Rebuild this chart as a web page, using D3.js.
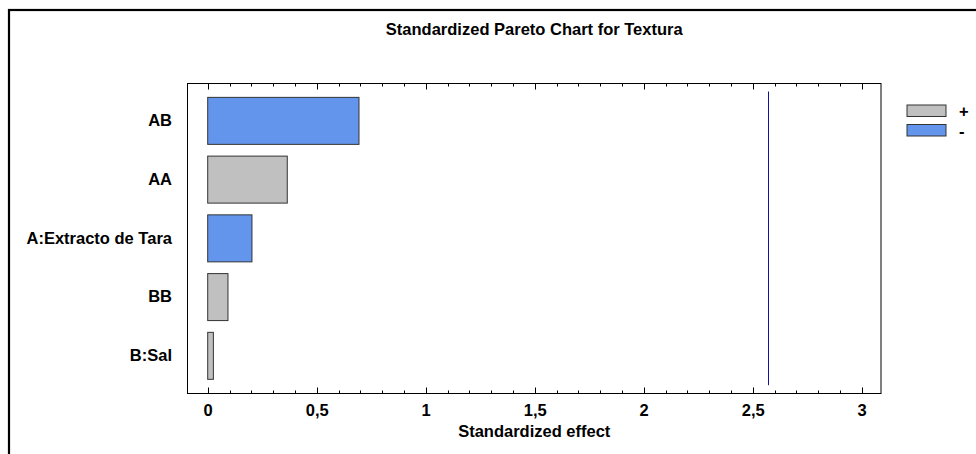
<!DOCTYPE html>
<html>
<head>
<meta charset="utf-8">
<script src="https://cdn.jsdelivr.net/npm/d3@7"></script>
<style>
  html, body { margin: 0; padding: 0; background: #fff; }
  svg { display: block; font-family: "Liberation Sans", Arial, sans-serif; }
</style>
</head>
<body>
<svg id="chart" width="976" height="454"></svg>
<script>
// Effects sorted by magnitude, with the sign of each effect
const effects = ["AB", "AA", "A:Extracto de Tara", "BB", "B:Sal"];
const effectValues = [0.694, 0.365, 0.203, 0.093, 0.026];
const effectSigns = ["-", "+", "-", "+", "+"];
const xTicks = [0, 0.5, 1, 1.5, 2, 2.5, 3];
const xTickLabels = ["0", "0,5", "1", "1,5", "2", "2,5", "3"];
const legendKeys = ["+", "-"];
const criticalValue = 2.5706; // t(0.025; 5)

const titleText = "Standardized Pareto Chart for Textura";
const xTitle = "Standardized effect";

const colors = { "+": "#c0c0c0", "-": "#6495ed" };
const fontFamily = "Liberation Sans, Arial, sans-serif";
const fontSize = 16.5;

const svg = d3.select("#chart");

// Outer page frame
svg.append("rect")
  .attr("x", 9).attr("y", 10)
  .attr("width", 1000).attr("height", 500)
  .attr("fill", "none").attr("stroke", "#000").attr("stroke-width", 2.2);

const plot = { left: 187.5, right: 881, top: 83.5, bottom: 393.5 };

const x = d3.scaleLinear().domain([0, 3]).range([207.7, 861.7]);
const y = d3.scaleBand().domain(effects)
  .range([91.5, 385.2]).paddingInner(0.2).paddingOuter(0.1);

// Title
svg.append("text")
  .attr("x", (plot.left + plot.right) / 2).attr("y", 35)
  .attr("text-anchor", "middle")
  .attr("font-size", fontSize).attr("font-weight", "bold")
  .text(titleText);

// Bars
svg.append("g").selectAll("rect")
  .data(effects)
  .join("rect")
  .attr("x", x(0))
  .attr("y", d => y(d))
  .attr("width", (d, i) => x(effectValues[i]) - x(0))
  .attr("height", y.bandwidth())
  .attr("fill", (d, i) => colors[effectSigns[i]])
  .attr("stroke", "#333")
  .attr("stroke-width", 1);

// Critical value reference line
const cx = Math.round(x(criticalValue)) + 0.5;
svg.append("line")
  .attr("x1", cx).attr("x2", cx)
  .attr("y1", y.range()[0]).attr("y2", y.range()[1])
  .attr("stroke", "#10109a").attr("stroke-width", 1);

// Plot frame
svg.append("rect")
  .attr("x", plot.left).attr("y", plot.top)
  .attr("width", plot.right - plot.left).attr("height", plot.bottom - plot.top)
  .attr("fill", "none").attr("stroke", "#000").attr("stroke-width", 1);

// Tick labels on the effect axis
const bottomAxis = d3.axisBottom(x).tickValues(xTicks)
  .tickFormat((d, i) => xTickLabels[i]).tickSize(0).tickPadding(10.5);
const bottomG = svg.append("g")
  .attr("transform", `translate(0,${plot.bottom})`)
  .call(bottomAxis)
  .attr("font-size", fontSize).attr("font-family", fontFamily).attr("font-weight", "bold");
bottomG.select(".domain").remove();
bottomG.selectAll("text").attr("fill", "#000");

// Inward ticks on bottom and top edges, major every 0.5, minor every 0.1
const minorTicks = d3.range(0, 31).map(i => i / 10);
const tickG = svg.append("g").attr("stroke", "#000").attr("stroke-width", 1);
minorTicks.forEach(v => {
  const major = Math.abs(v * 2 - Math.round(v * 2)) < 1e-9;
  const len = major ? 6 : 3;
  const px = Math.round(x(v)) + 0.5;
  tickG.append("line").attr("x1", px).attr("x2", px)
    .attr("y1", plot.bottom).attr("y2", plot.bottom - len);
  tickG.append("line").attr("x1", px).attr("x2", px)
    .attr("y1", plot.top).attr("y2", plot.top + len);
});

// Category labels
const leftAxis = d3.axisLeft(y).tickSize(0).tickPadding(15.5);
const leftG = svg.append("g")
  .attr("transform", `translate(${plot.left},0)`)
  .call(leftAxis)
  .attr("font-size", fontSize).attr("font-family", fontFamily).attr("font-weight", "bold");
leftG.select(".domain").remove();
leftG.selectAll("text").attr("fill", "#000");

// Axis title
svg.append("text")
  .attr("x", (plot.left + plot.right) / 2).attr("y", 437)
  .attr("text-anchor", "middle")
  .attr("font-size", fontSize).attr("font-weight", "bold")
  .text(xTitle);

// Legend
const legend = svg.append("g");
legendKeys.forEach((k, i) => {
  const ly = 105 + i * 19.5;
  legend.append("rect")
    .attr("x", 907).attr("y", ly)
    .attr("width", 39).attr("height", 11.5)
    .attr("fill", colors[k]).attr("stroke", "#333").attr("stroke-width", 1);
  legend.append("text")
    .attr("x", 959).attr("y", ly + 12)
    .attr("font-size", fontSize).attr("font-weight", "bold")
    .text(k);
});
</script>
</body>
</html>
